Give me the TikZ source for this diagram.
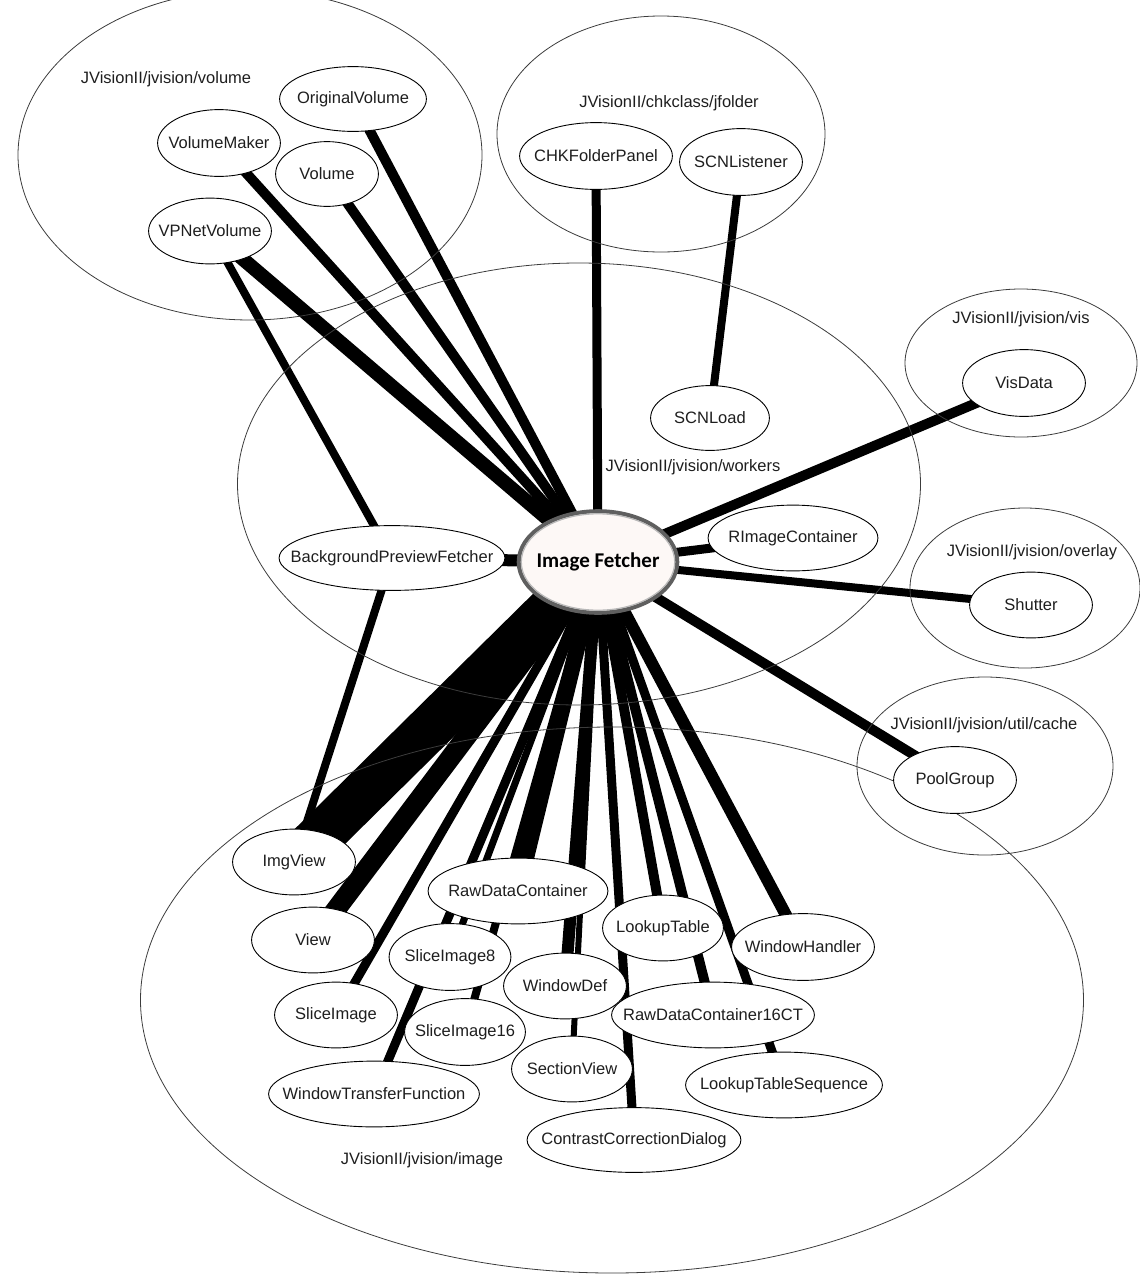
\documentclass[tikz,border=0pt]{standalone}
\usepackage{fontspec}
\setmainfont{Liberation Sans}
\newfontfamily\fetcherfont{Carlito}
\usetikzlibrary{calc,shapes.geometric}
\definecolor{pkg_color}{RGB}{60,60,60}
\definecolor{label_color}{RGB}{30,30,30}
\definecolor{fetcher_fill}{RGB}{253,248,246}
\definecolor{fetcher_rim}{RGB}{95,95,95}
\definecolor{fetcher_glow}{RGB}{185,185,185}
\pgfdeclarelayer{links}
\pgfsetlayers{links,main}
\tikzset{
  pkg/.style={
    draw=pkg_color, line width=0.8pt, ellipse, inner sep=0pt
  },
  pkglabel/.style={
    text=label_color, font=\fontsize{16.5}{19}\selectfont, inner sep=1pt
  },
  cls/.style={
    rectangle, inner sep=0pt, text=label_color,
    font=\fontsize{16.5}{19}\selectfont,
    path picture={
      \draw[black, line width=0.9pt, fill=white]
        let \p1=(path picture bounding box.south west),
            \p2=(path picture bounding box.north east) in
        (path picture bounding box.center)
        ellipse [x radius={(\x2-\x1)/2-0.6pt}, y radius={(\y2-\y1)/2-0.6pt}];
    }
  },
  fetcher/.style={
    rectangle, inner sep=0pt, text=black,
    font=\fetcherfont\bfseries\fontsize{21}{24}\selectfont,
    path picture={
      \draw[fetcher_rim, line width=4pt, fill=fetcher_fill]
        let \p1=(path picture bounding box.south west),
            \p2=(path picture bounding box.north east) in
        (path picture bounding box.center)
        ellipse [x radius={(\x2-\x1)/2-2.2pt}, y radius={(\y2-\y1)/2-2.2pt}];
      \draw[fetcher_glow, line width=1.2pt]
        let \p1=(path picture bounding box.south west),
            \p2=(path picture bounding box.north east) in
        (path picture bounding box.center)
        ellipse [x radius={(\x2-\x1)/2-4.8pt}, y radius={(\y2-\y1)/2-4.8pt}];
    }
  },
  deplink/.style={line width=#1, black}
}

\begin{document}
\begin{tikzpicture}[x=1pt, y=-1pt]
\useasboundingbox (0,0) rectangle (1140,1275);

% packages
\node[pkg, minimum width=464pt, minimum height=330pt] (volumepkg) at (250,155) {};
\node[pkg, minimum width=328pt, minimum height=236pt] (jfolderpkg) at (661,134) {};
\node[pkg, minimum width=683pt, minimum height=442pt] (workerspkg) at (579,484) {};
\node[pkg, minimum width=232pt, minimum height=148pt] (vispkg) at (1021,363) {};
\node[pkg, minimum width=230pt, minimum height=160pt] (overlaypkg) at (1025,588) {};
\node[pkg, minimum width=256pt, minimum height=178pt] (cachepkg) at (985,766) {};
\node[pkg, minimum width=943pt, minimum height=546pt] (imagepkg) at (612,1000) {};

\node[pkglabel] (volumelabel) at (166,79) {JVisionII/jvision/volume};
\node[pkglabel] (jfolderlabel) at (669,103) {JVisionII/chkclass/jfolder};
\node[pkglabel] (workerslabel) at (693,467) {JVisionII/jvision/workers};
\node[pkglabel] (vislabel) at (1021,319) {JVisionII/jvision/vis};
\node[pkglabel] (overlaylabel) at (1032,552) {JVisionII/jvision/overlay};
\node[pkglabel] (cachelabel) at (984,725) {JVisionII/jvision/util/cache};
\node[pkglabel] (imagelabel) at (422,1160) {JVisionII/jvision/image};

% classes
\node[cls, minimum width=148pt, minimum height=66pt] (originalvolume) at (353,99) {OriginalVolume};
\node[cls, minimum width=124pt, minimum height=68pt] (volumemaker) at (219,143) {VolumeMaker};
\node[cls, minimum width=104pt, minimum height=66pt] (volume) at (327,174) {Volume};
\node[cls, minimum width=124pt, minimum height=67pt] (vpnetvolume) at (210,231) {VPNetVolume};
\node[cls, minimum width=154pt, minimum height=68pt] (chkfolderpanel) at (596,156) {CHKFolderPanel};
\node[cls, minimum width=124pt, minimum height=68pt] (scnlistener) at (741,162) {SCNListener};
\node[cls, minimum width=120pt, minimum height=66pt] (scnload) at (710,418) {SCNLoad};
\node[cls, minimum width=124pt, minimum height=68pt] (visdata) at (1024,383) {VisData};
\node[cls, minimum width=171pt, minimum height=67pt] (rimagecontainer) at (793,538) {RImageContainer};
\node[cls, minimum width=227pt, minimum height=66pt] (bgpreviewfetcher) at (392,558) {BackgroundPreviewFetcher};
\node[cls, minimum width=124pt, minimum height=67pt] (shutter) at (1031,605) {Shutter};
\node[cls, minimum width=124pt, minimum height=68pt] (poolgroup) at (955,780) {PoolGroup};
\node[fetcher, minimum width=163pt, minimum height=106pt] (fetcher) at (598,562) {Image Fetcher};

\node[cls, minimum width=124pt, minimum height=67pt] (imgview) at (294,862) {ImgView};
\node[cls, minimum width=181pt, minimum height=67pt] (rawdatacontainer) at (518,891) {RawDataContainer};
\node[cls, minimum width=122pt, minimum height=67pt] (lookuptable) at (663,928) {LookupTable};
\node[cls, minimum width=144pt, minimum height=68pt] (windowhandler) at (803,947) {WindowHandler};
\node[cls, minimum width=124pt, minimum height=67pt] (view) at (313,940) {View};
\node[cls, minimum width=123pt, minimum height=68pt] (sliceimage8) at (450,957) {SliceImage8};
\node[cls, minimum width=124pt, minimum height=67pt] (windowdef) at (565,986) {WindowDef};
\node[cls, minimum width=204pt, minimum height=67pt] (rawdatacontainer16) at (713,1015) {RawDataContainer16CT};
\node[cls, minimum width=124pt, minimum height=67pt] (sliceimage) at (336,1015) {SliceImage};
\node[cls, minimum width=122pt, minimum height=68pt] (sliceimage16) at (465,1032) {SliceImage16};
\node[cls, minimum width=122pt, minimum height=67pt] (sectionview) at (572,1069) {SectionView};
\node[cls, minimum width=198pt, minimum height=67pt] (lookupsequence) at (784,1085) {LookupTableSequence};
\node[cls, minimum width=212pt, minimum height=67pt] (windowtransfer) at (374,1094) {WindowTransferFunction};
\node[cls, minimum width=215pt, minimum height=66pt] (contrastdialog) at (634,1140) {ContrastCorrectionDialog};

% dependencies
\begin{pgfonlayer}{links}
\draw[deplink=14pt] (vpnetvolume.center) -- (fetcher.center);
\draw[deplink=10pt] (volumemaker.center) -- (fetcher.center);
\draw[deplink=10pt] (volume.center) -- (fetcher.center);
\draw[deplink=10pt] (originalvolume.center) -- (fetcher.center);
\draw[deplink=8pt] (vpnetvolume.center) -- (bgpreviewfetcher.center);
\draw[deplink=9pt] (chkfolderpanel.center) -- (fetcher.center);
\draw[deplink=8pt] (scnlistener.center) -- (scnload.center);
\draw[deplink=10pt] (visdata.center) -- (fetcher.center);
\draw[deplink=9pt] (rimagecontainer.center) -- (fetcher.center);
\draw[deplink=8pt] (shutter.center) -- (fetcher.center);
\draw[deplink=10pt] (poolgroup.center) -- (fetcher.center);
\draw[deplink=12pt] (bgpreviewfetcher.center) -- (fetcher.center);
\draw[deplink=8pt] (bgpreviewfetcher.center) -- (imgview.center);
\draw[deplink=46pt] (fetcher.center) -- (imgview.center);
\draw[deplink=20pt] (fetcher.center) -- (view.center);
\draw[deplink=9pt] (fetcher.center) -- (sliceimage.center);
\draw[deplink=9pt] (fetcher.center) -- (windowtransfer.center);
\draw[deplink=7pt] (fetcher.center) -- (sliceimage8.center);
\draw[deplink=8pt] (fetcher.center) -- (sliceimage16.center);
\draw[deplink=16pt] (fetcher.center) -- (rawdatacontainer.center);
\draw[deplink=12pt] (fetcher.center) -- (windowdef.center);
\draw[deplink=6pt] (fetcher.center) -- (sectionview.center);
\draw[deplink=9pt] (fetcher.center) -- (contrastdialog.center);
\draw[deplink=10pt] (fetcher.center) -- (lookuptable.center);
\draw[deplink=10pt] (fetcher.center) -- (rawdatacontainer16.center);
\draw[deplink=9pt] (fetcher.center) -- (lookupsequence.center);
\draw[deplink=12pt] (fetcher.center) -- (windowhandler.center);
\end{pgfonlayer}

\end{tikzpicture}
\end{document}
